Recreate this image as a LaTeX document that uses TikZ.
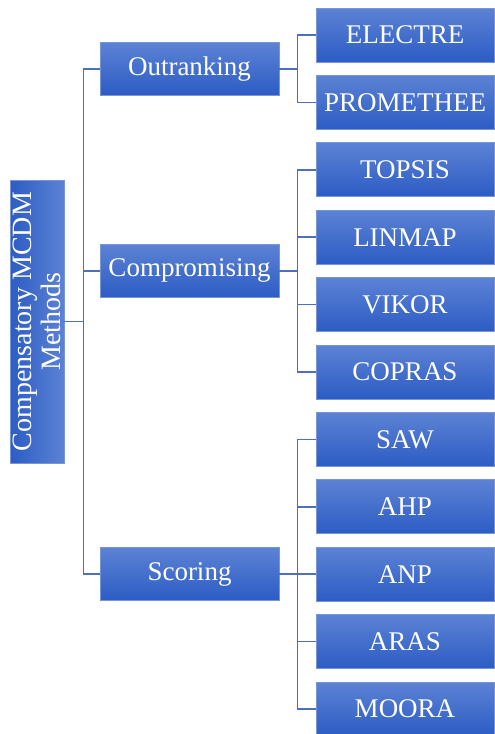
\documentclass[tikz,border=0pt]{standalone}
\usepackage{fontspec}
\setmainfont{Liberation Serif}
\definecolor{boxtop}{RGB}{92, 130, 212}
\definecolor{boxbot}{RGB}{44, 92, 196}
\definecolor{boxline}{RGB}{120, 150, 215}
\definecolor{link}{RGB}{78, 110, 190}

\begin{document}
\begin{tikzpicture}[x=1pt, y=-1pt,
	box/.style={top color=boxtop, bottom color=boxbot, draw=boxline, line width=0.8pt,
		text=white, inner sep=0pt, font=\fontsize{27}{30}\selectfont},
	method/.style={box, minimum width=179, minimum height=53},
	leaf/.style={box, minimum width=178, minimum height=54},
	conn/.style={draw=link, line width=1.6pt}]
	\useasboundingbox (0,0) rectangle (495,734);

	% racine
	\node[box, left color=boxbot, right color=boxtop, rotate=90, minimum width=283, minimum height=54,
		align=center, font=\fontsize{28}{29.5}\selectfont] (root) at (37,321.5)
		{Compensatory MCDM\\Methods};

	% familles
	\node[method] (out) at (189.5,68.7) {Outranking};
	\node[method] (cmp) at (189.5,270.9) {Compromising};
	\node[method] (scr) at (189.5,574.2) {Scoring};

	% methodes
	\foreach \name [count=\i from 0] in {ELECTRE,PROMETHEE,TOPSIS,LINMAP,VIKOR,COPRAS,SAW,AHP,ANP,ARAS,MOORA} {
		\node[leaf] (m\i) at (405,35+67.4*\i) {\name};
	}

	% liens
	\foreach \f in {out,cmp,scr}
		\draw[conn] (root.south) -- ++(19,0) |- (\f.west);
	\foreach \i in {0,1}
		\draw[conn] (out.east) -- ++(18,0) |- (m\i.west);
	\foreach \i in {2,...,5}
		\draw[conn] (cmp.east) -- ++(18,0) |- (m\i.west);
	\foreach \i in {6,...,10}
		\draw[conn] (scr.east) -- ++(18,0) |- (m\i.west);
\end{tikzpicture}
\end{document}
